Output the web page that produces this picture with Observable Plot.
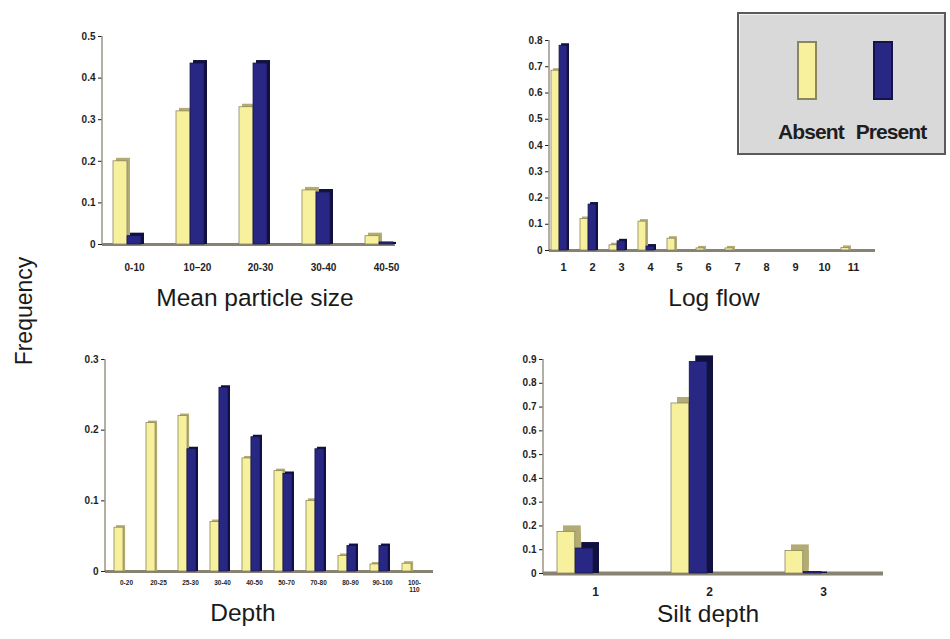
<!DOCTYPE html>
<html>
<head>
<meta charset="utf-8">
<script src="https://cdn.jsdelivr.net/npm/d3@7"></script>
<script src="https://cdn.jsdelivr.net/npm/@observablehq/plot@0.6"></script>
<style>
  html, body { margin: 0; padding: 0; background: #fff; }
  #page { position: relative; width: 950px; height: 639px; overflow: hidden; font-family: "Liberation Sans", Arial, sans-serif; }
  .panel { position: absolute; }
  .title { position: absolute; font-size: 24.5px; line-height: 1; color: #1a1a1a; transform: translateX(-50%); white-space: nowrap; }
  #ylab { position: absolute; left: 24px; top: 311px; font-size: 23px; line-height: 1; color: #1a1a1a; transform: translate(-50%, -50%) rotate(-90deg); white-space: nowrap; }
  #legend { position: absolute; left: 737px; top: 12px; width: 209px; height: 143px; box-sizing: border-box;
            background: #d9d9d9; border: 2px solid #5a5a5a; box-shadow: inset 1px 1px 0 #f2f2f2; }
  .sw { position: absolute; top: 27px; width: 20px; height: 59px; box-sizing: border-box; }
  .lt { position: absolute; top: 107px; font-size: 21px; line-height: 1; font-weight: bold; letter-spacing: -0.9px; color: #1e1e1e; transform: translateX(-50%); white-space: nowrap; }
</style>
</head>
<body>
<div id="page">
  <div id="ylab">Frequency</div>
  <div class="title" style="left:255px; top:286px;">Mean particle size</div>
  <div class="title" style="left:714px; top:286px;">Log flow</div>
  <div class="title" style="left:243px; top:601px;">Depth</div>
  <div class="title" style="left:708px; top:602px;">Silt depth</div>
</div>
<script>
// ---------- data ----------
const seriesNames = ["Absent", "Present"];

const sizeCats    = ["0-10", "10–20", "20-30", "30-40", "40-50"];
const sizeAbsent  = [0.20, 0.32, 0.33, 0.13, 0.02];
const sizePresent = [0.02, 0.435, 0.435, 0.125, 0.005];
const sizeTicks   = [0, 0.1, 0.2, 0.3, 0.4, 0.5];

const flowCats    = ["1", "2", "3", "4", "5", "6", "7", "8", "9", "10", "11"];
const flowAbsent  = [0.685, 0.12, 0.02, 0.11, 0.045, 0.008, 0.008, 0, 0, 0, 0.01];
const flowPresent = [0.78, 0.175, 0.035, 0.015, 0, 0, 0, 0, 0, 0, 0];
const flowTicks   = [0, 0.1, 0.2, 0.3, 0.4, 0.5, 0.6, 0.7, 0.8];

const depthCats    = ["0-20", "20-25", "25-30", "30-40", "40-50", "50-70", "70-80", "80-90", "90-100", "100-\n110"];
const depthAbsent  = [0.062, 0.21, 0.22, 0.07, 0.16, 0.142, 0.10, 0.022, 0.01, 0.011];
const depthPresent = [0, 0, 0.173, 0.26, 0.19, 0.138, 0.173, 0.036, 0.036, 0];
const depthTicks   = [0, 0.1, 0.2, 0.3];

const siltCats    = ["1", "2", "3"];
const siltAbsent  = [0.175, 0.715, 0.095];
const siltPresent = [0.105, 0.89, 0.006];
const siltTicks   = [0, 0.1, 0.2, 0.3, 0.4, 0.5, 0.6, 0.7, 0.8, 0.9];

// ---------- styles ----------
const YELLOW = "#f7f19e", YELLOW_EDGE = "#8c865e", YELLOW_SIDE = "#b3ab74";
const NAVY = "#282884", NAVY_EDGE = "#14144a", NAVY_SIDE = "#111140";

function panel(cfg) {
  const rows = cfg.cats.map((c, i) => ({cat: c, a: cfg.absent[i], p: cfg.present[i]}));
  const A = rows.filter(d => d.a > 0), P = rows.filter(d => d.p > 0);
  const Atop = A.filter(d => d.a >= cfg.minTop), Ptop = P.filter(d => d.p >= cfg.minTop);
  const step = (cfg.xRange[1] - cfg.xRange[0]) / cfg.cats.length;
  const half = step * (1 - cfg.padIn) / 2;
  const dep = cfg.depth;
  const axisLine = (index, scales, values, dim) => {
    const y0 = scales.y(0), y1 = scales.y(cfg.yMax);
    const g = d3.create("svg:g");
    g.append("line").attr("x1", dim.marginLeft).attr("x2", dim.marginLeft)
      .attr("y1", y0).attr("y2", y1).attr("stroke", "#9a948a").attr("stroke-width", 1.5);
    return g.node();
  };
  const chart = Plot.plot({
    width: cfg.width, height: cfg.height,
    marginLeft: cfg.mL, marginRight: cfg.mR, marginTop: cfg.mT, marginBottom: cfg.mB,
    style: {background: "transparent", fontFamily: "Liberation Sans, Arial, sans-serif",
            fontSize: cfg.yFont + "px", fontWeight: "bold", color: "#1e1e1e", overflow: "visible"},
    x: {type: "band", domain: cfg.cats, range: cfg.xRange, paddingInner: cfg.padIn, paddingOuter: cfg.padIn / 2, axis: null},
    y: {domain: [0, cfg.yMax], ticks: cfg.yTicks, tickFormat: d => String(d), tickSize: 4, tickPadding: 3, label: null},
    marks: [
      axisLine,
      Plot.ruleY([0], {stroke: "#878272", strokeWidth: cfg.floor}),
      Plot.barY(Atop, {x: "cat", y: "a", fill: YELLOW_SIDE, insetRight: half, dx: dep, dy: -dep}),
      Plot.barY(A, {x: "cat", y: "a", fill: YELLOW_SIDE, insetRight: half, dx: dep}),
      Plot.barY(A, {x: "cat", y: "a", fill: YELLOW, stroke: YELLOW_EDGE, strokeWidth: 0.8, insetRight: half}),
      Plot.barY(Ptop, {x: "cat", y: "p", fill: NAVY_SIDE, insetLeft: half, dx: dep, dy: -dep}),
      Plot.barY(P, {x: "cat", y: "p", fill: NAVY_SIDE, insetLeft: half, dx: dep}),
      Plot.barY(P, {x: "cat", y: "p", fill: NAVY, stroke: NAVY_EDGE, strokeWidth: 0.8, insetLeft: half}),
      Plot.text(cfg.cats, {x: d => d, text: d => d, frameAnchor: "bottom", lineAnchor: "top",
        dy: cfg.labPad, dx: cfg.labDx, fontSize: cfg.xFont, fontWeight: "bold", fill: "#1e1e1e", lineHeight: 1.1})
    ]
  });
  chart.classList.add("panel");
  chart.style.left = cfg.left + "px";
  chart.style.top = cfg.top + "px";
  document.getElementById("page").appendChild(chart);
}

panel({cats: sizeCats, absent: sizeAbsent, present: sizePresent, yMax: 0.5, yTicks: sizeTicks,
  left: 40, top: 20, width: 370, height: 280, mL: 62, mR: 15, mT: 16, mB: 56,
  xRange: [53, 372], padIn: 0.56, depth: 3, minTop: 0.01, floor: 3, yFont: 10, xFont: 10, labPad: 19, labDx: 7});

panel({cats: flowCats, absent: flowAbsent, present: flowPresent, yMax: 0.8, yTicks: flowTicks,
  left: 490, top: 20, width: 400, height: 280, mL: 59, mR: 15, mT: 20, mB: 50,
  xRange: [52, 375], padIn: 0.45, depth: 2, minTop: 0.005, floor: 3, yFont: 10, xFont: 11, labPad: 12, labDx: 4});

panel({cats: depthCats, absent: depthAbsent, present: depthPresent, yMax: 0.3, yTicks: depthTicks,
  left: 40, top: 340, width: 420, height: 290, mL: 65, mR: 27, mT: 19, mB: 59,
  xRange: [64, 389], padIn: 0.45, depth: 2, minTop: 0.005, floor: 3, yFont: 10, xFont: 6.5, labPad: 8, labDx: 3});

panel({cats: siltCats, absent: siltAbsent, present: siltPresent, yMax: 0.9, yTicks: siltTicks,
  left: 490, top: 340, width: 410, height: 290, mL: 53, mR: 17, mT: 19, mB: 57,
  xRange: [28, 370], padIn: 0.68, depth: 6, minTop: 0.03, floor: 4, yFont: 10, xFont: 12, labPad: 13, labDx: 20});

// ---------- legend ----------
const legend = document.createElement("div");
legend.id = "legend";
const swatchFill = [YELLOW, NAVY], swatchEdge = [YELLOW_EDGE, NAVY_EDGE];
const swLeft = [58, 134], txtCenter = [72, 152];
seriesNames.forEach((name, i) => {
  const sw = document.createElement("div");
  sw.className = "sw";
  sw.style.left = swLeft[i] + "px";
  sw.style.background = swatchFill[i];
  sw.style.border = "2px solid " + swatchEdge[i];
  legend.appendChild(sw);
  const t = document.createElement("div");
  t.className = "lt";
  t.style.left = txtCenter[i] + "px";
  t.textContent = name;
  legend.appendChild(t);
});
document.getElementById("page").appendChild(legend);
</script>
</body>
</html>
